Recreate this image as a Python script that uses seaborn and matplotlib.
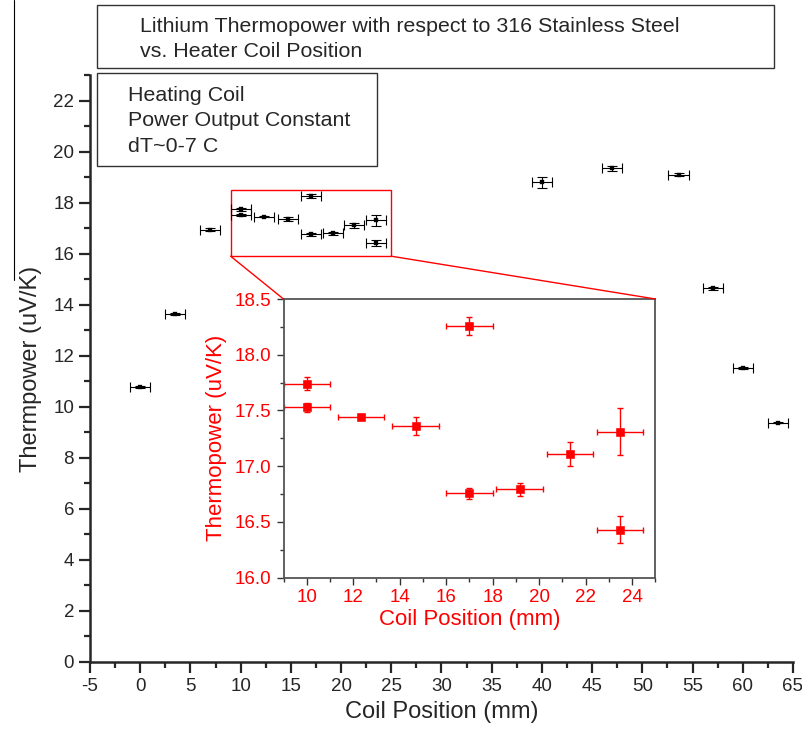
import numpy as np
import pandas as pd
import matplotlib
matplotlib.use('Agg')
import matplotlib.pyplot as plt
import seaborn as sns
from matplotlib.patches import Rectangle, ConnectionPatch
from matplotlib.lines import Line2D
from matplotlib.ticker import MultipleLocator

# points outside the zoomed window
outer_x = [0.0, 3.5, 6.95, 40.0, 47.0, 53.6, 57.0, 60.05, 63.5]
outer_y = [10.77, 13.65, 16.94, 18.79, 19.35, 19.09, 14.64, 11.52, 9.38]
outer_yerr = [0.05, 0.04, 0.05, 0.2, 0.1, 0.06, 0.06, 0.04, 0.03]

# points inside the zoomed window (shown again in the inset)
zoom_x = [10.0, 10.0, 12.33, 14.68, 17.0, 17.0, 19.16, 21.33, 23.48, 23.48]
zoom_y = [17.74, 17.53, 17.44, 17.36, 18.26, 16.755, 16.79, 17.11, 17.31, 16.43]
zoom_yerr = [0.06, 0.04, 0.02, 0.08, 0.08, 0.05, 0.06, 0.11, 0.21, 0.12]
pos_err = 1.0

title_lines = 'Lithium Thermopower with respect to 316 Stainless Steel\nvs. Heater Coil Position'
note_lines = 'Heating Coil\nPower Output Constant\ndT~0-7 C'

all_df = pd.DataFrame({'x': outer_x + zoom_x, 'y': outer_y + zoom_y,
                       'yerr': outer_yerr + zoom_yerr})
zoom_df = pd.DataFrame({'x': zoom_x, 'y': zoom_y, 'yerr': zoom_yerr})

sns.set_style('ticks')
plt.rcParams['font.family'] = ['Liberation Sans', 'DejaVu Sans']
plt.rcParams['axes.unicode_minus'] = False

W, H = 803, 731
fig = plt.figure(figsize=(W / 100, H / 100), dpi=100)


def fx(px):
    return px / W


def fy(py):
    return 1 - py / H


## main axes
ax = fig.add_axes([fx(90), fy(662), fx(793) - fx(90), fy(75) - fy(662)])
ax.errorbar(all_df['x'], all_df['y'], xerr=pos_err, yerr=all_df['yerr'], fmt='none',
            ecolor='k', elinewidth=0.8, capsize=3.5, capthick=0.8)
sns.scatterplot(data=all_df, x='x', y='y', marker='s', s=9, color='k', edgecolor='k', ax=ax, zorder=3)
ax.set_xlim(-5, 65)
ax.set_ylim(0, 23)
ax.xaxis.set_major_locator(MultipleLocator(5))
ax.xaxis.set_minor_locator(MultipleLocator(2.5))
ax.yaxis.set_major_locator(MultipleLocator(2))
ax.yaxis.set_minor_locator(MultipleLocator(1))
ax.set_yticks(np.arange(0, 23, 2))
ax.tick_params(which='major', length=8, width=1.6, labelsize=13.5, direction='out')
ax.tick_params(which='minor', length=4.5, width=1.6, direction='out')
sns.despine(ax=ax)
for s in ['left', 'bottom']:
    ax.spines[s].set_linewidth(1.8)
ax.set_xlabel('Coil Position (mm)', fontsize=17, labelpad=4)
ax.set_ylabel('Thermpower (uV/K)', fontsize=17, labelpad=8)

## zoom window + connectors
ax.add_patch(Rectangle((9, 15.9), 16, 2.6, fill=False, edgecolor='red', lw=1))

## inset
axin = fig.add_axes([fx(283.5), fy(577.5), fx(655.5) - fx(283.5), fy(299) - fy(577.5)])
axin.errorbar(zoom_df['x'], zoom_df['y'], xerr=pos_err, yerr=zoom_df['yerr'], fmt='none',
              ecolor='red', elinewidth=1, capsize=2.5, capthick=1)
sns.scatterplot(data=zoom_df, x='x', y='y', marker='s', s=30, color='red', edgecolor='red',
                ax=axin, zorder=3)
axin.set_xlim(9, 25)
axin.set_ylim(16, 18.5)
axin.xaxis.set_major_locator(MultipleLocator(2))
axin.xaxis.set_minor_locator(MultipleLocator(1))
axin.yaxis.set_major_locator(MultipleLocator(0.5))
axin.yaxis.set_minor_locator(MultipleLocator(0.25))
axin.yaxis.set_major_formatter(matplotlib.ticker.FormatStrFormatter('%.1f'))
axin.tick_params(which='major', length=5, width=1, labelsize=13.5, labelcolor='red', color='#333333')
axin.tick_params(which='minor', length=3, width=1, color='#333333')
for s in axin.spines.values():
    s.set_color('#555555')
    s.set_linewidth(1.3)
axin.set_xlabel('Coil Position (mm)', fontsize=16, color='red', labelpad=2)
axin.set_ylabel('Thermopower (uV/K)', fontsize=16, color='red', labelpad=6)

for xa, xb in [(9, 0), (25, 1)]:
    con = ConnectionPatch(xyA=(xa, 15.9), coordsA=ax.transData, xyB=(xb, 1), coordsB=axin.transAxes,
                          color='red', lw=1)
    fig.add_artist(con)

## title box and note box
fig.add_artist(Rectangle((fx(97.5), fy(68)), fx(774) - fx(97.5), fy(5) - fy(68),
                         transform=fig.transFigure, fill=True, facecolor='white', edgecolor='#333333', lw=1))
fig.text(fx(140), fy(39), title_lines, fontsize=15.4, ha='left', va='center', linespacing=1.45)
fig.add_artist(Rectangle((fx(97), fy(166)), fx(377) - fx(97), fy(73) - fy(166),
                         transform=fig.transFigure, fill=True, facecolor='white', edgecolor='#333333', lw=1))
fig.text(fx(128), fy(121), note_lines, fontsize=15.4, ha='left', va='center', linespacing=1.45)

## stray vertical line at the left edge
fig.add_artist(Line2D([fx(14), fx(14)], [fy(0), fy(280)], transform=fig.transFigure, color='k', lw=0.8))

fig.savefig('out.png', dpi=100)
